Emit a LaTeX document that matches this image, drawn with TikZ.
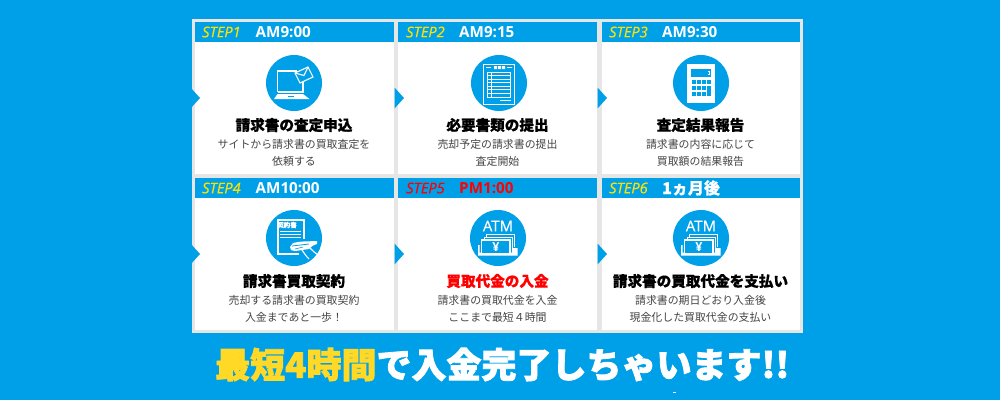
\documentclass[tikz,border=0pt]{standalone}
\usepackage{fontspec}
\newfontfamily\jp{Noto Sans CJK JP}[BoldFeatures={FakeBold=0.6}]
\newfontfamily\jph{Noto Sans CJK JP}[BoldFeatures={FakeBold=2.2}]
\newfontfamily\lat{Open Sans}
\newfontfamily\latm{Open Sans}[FakeBold=0.4]
\definecolor{skyb}{HTML}{00A0E9}
\definecolor{panelg}{HTML}{E6E6E6}
\definecolor{stepy}{HTML}{FFE100}
\definecolor{heady}{HTML}{FFD925}
\definecolor{subg}{HTML}{444444}
\tikzset{
  x=1pt,y=-1pt,
  cardbox/.style={fill=white,draw=none},
  headbar/.style={fill=skyb,draw=none},
  flowmark/.style={fill=skyb,draw=none},
  iconcircle/.style={circle,fill=skyb,draw=none,minimum size=56pt,inner sep=0pt},
  steplabel/.style={anchor=west,inner sep=0pt,text=stepy,font=\latm\itshape\fontsize{14.6}{16}\selectfont},
  timelabel/.style={anchor=west,inner sep=0pt,text=white,font=\lat\bfseries\fontsize{15.2}{18}\selectfont},
  timejp/.style={anchor=west,inner sep=0pt,text=white,font=\jp\bfseries\fontsize{16}{18}\selectfont},
  cardtitle/.style={inner sep=0pt,text=black,font=\jp\bfseries\fontsize{14.6}{16}\selectfont},
  cardsub/.style={inner sep=0pt,text=subg,font=\jp\fontsize{10.9}{13}\selectfont},
  wl/.style={draw=white,line width=1.3pt,fill=none},
  wf/.style={fill=white,draw=none},
  bl/.style={fill=skyb,draw=none},
}
\newcommand{\cardframe}[3]{% x, y-top, y-bottom
  \path[cardbox] (#1,#2) rectangle ++(198.5,#3-#2);
  \path[headbar] (#1,#2) rectangle ++(198.5,20);
}
\newcommand{\flowtri}[2]{\path[flowmark] (#1,#2-10.5) -- (#1+9.5,#2) -- (#1,#2+10.5) -- cycle;}
\newcommand{\iconlaptop}[2]{\begin{scope}[shift={(#1,#2)}]
  \draw[wl] (-16.5,9) -- (-16.5,-12) -- (3,-12);
  \draw[wl] (-16.5,9) -- (9,9) -- (9,-3);
  \path[wf] (-16.5,11) -- (9,11) -- (15.5,16) -- (-20,16) -- cycle;
  \path[bl] (-6,13) rectangle (0,14);
  \draw[wl,fill=skyb,line width=1.1pt] (1,-10) -- (14,-16) -- (19,-6) -- (6,0) -- cycle;
  \draw[wl,line width=1.1pt] (1,-10) -- (10,-7.5) -- (14,-16);
\end{scope}}
\newcommand{\icondoc}[2]{\begin{scope}[shift={(#1,#2)}]
  \draw[wl,line width=.9pt] (-16,-19) rectangle (15,21);
  \path[wf] (-5,-17) rectangle (-2,-14) (-1,-17) rectangle (2,-14) (3,-17) rectangle (6,-14);
  \path[wf] (-13,-16) rectangle (-8,-15.2) (8,-16) rectangle (13,-15.2);
  \draw[wl,line width=.7pt] (-12,-11) rectangle (11,14);
  \draw[white,line width=.7pt] (-8,-11) -- (-8,14);
  \foreach \yy in {-7.5,-4,-.5,3,6.5,10}{\draw[white,line width=.7pt] (-12,\yy) -- (11,\yy);}
  \draw[white,line width=1pt] (1,17.5) -- (12,17.5);
\end{scope}}
\newcommand{\iconcalc}[2]{\begin{scope}[shift={(#1,#2)}]
  \path[wf] (-14,-19) rectangle (13.5,19.5);
  \path[bl] (-10,-14) rectangle (10,-6.5);
  \path[wf] (6.5,-12.5) rectangle (9,-8);
  \path[bl] (7.3,-11.5) rectangle (8.2,-9);
  \foreach \cx in {-9,-4,1.2,6.4}{\path[bl] (\cx,-3) rectangle ++(3.5,3.5);}
  \foreach \cx in {-9,-4,1.2}{\foreach \cy in {3,9}{\path[bl] (\cx,\cy) rectangle ++(3.5,3.5);}}
  \path[bl] (6.4,3) rectangle (9.9,12.5);
\end{scope}}
\newcommand{\iconpact}[2]{\begin{scope}[shift={(#1,#2)}]
  \draw[wl] (10,1) -- (10,-18) -- (-16,-18) -- (-16,16) -- (5,16);
  \node[inner sep=0pt,text=white,font=\jp\bfseries\fontsize{6.5}{7}\selectfont] (pacttext#1) at (-7,-13) {契約書};
  \foreach \yy in {-6.5,-3.5,-1}{\draw[white,line width=.9pt] (-14,\yy) -- (7,\yy);}
  \path[wf] (-4,9) -- (-1,5) .. controls (6,3) and (14,3.5) .. (23,3) -- (23,6) .. controls (19,7) and (17,9) .. (15,11) -- (8,12) -- (1,13) -- (-3,12) -- cycle;
  \draw[skyb,line width=.8pt] (-2,8) -- (15,6);
  \draw[skyb,line width=.6pt] (1,11) -- (9,9);
  \draw[wl,line width=1.1pt] (8,12) .. controls (10,15) and (12,18) .. (15,21);
  \draw[wl,line width=1.1pt] (16,10) .. controls (19,13) and (21,15) .. (24,17);
\end{scope}}
\newcommand{\iconatm}[2]{\begin{scope}[shift={(#1,#2)}]
  \node[inner sep=0pt,text=white,font=\latm\fontsize{15}{16}\selectfont] (atmtext#1) at (0,-12) {ATM};
  \draw[wl,line width=1pt] (-12,0) -- (-12,-3.8) -- (16,-3.8) -- (16,9);
  \draw[wl,line width=1pt] (-14,2) -- (-14,-1) -- (14,-1) -- (14,11);
  \path[wf] (-20,7) -- (-18.5,7) -- (-18.5,14.5) -- (14,14.5) -- (14,10) -- (19.5,10) -- (19.5,17.5) -- (-20,17.5) -- cycle;
  \draw[wl,fill=skyb,line width=1.1pt] (-16.5,2) rectangle (12,15.5);
  \node[inner sep=0pt,text=white,font=\lat\bfseries\fontsize{12.5}{14}\selectfont] (yen#1) at (-2,8.7) {¥};
\end{scope}}
\begin{document}
\begin{tikzpicture}
\useasboundingbox (0,0) rectangle (1000,400);
\path[fill=skyb] (0,0) rectangle (1000,400);
\path[fill=panelg] (192,19) rectangle (803,333);
\cardframe{195}{22}{174}
\cardframe{398}{22}{174}
\cardframe{601.5}{22}{174}
\cardframe{195}{178}{330}
\cardframe{398}{178}{330}
\cardframe{601.5}{178}{330}
\flowtri{190.5}{98}
\flowtri{394.5}{98}
\flowtri{597.5}{98}
\flowtri{190.5}{254}
\flowtri{394.5}{254}
\flowtri{597.5}{254}
% headers
\node[steplabel] (s1) at (202,32) {STEP1};
\node[timelabel] (t1) at (255.5,32) {AM9:00};
\node[steplabel] (s2) at (406,32) {STEP2};
\node[timelabel] (t2) at (459,32) {AM9:15};
\node[steplabel] (s3) at (609,32) {STEP3};
\node[timelabel] (t3) at (662,32) {AM9:30};
\node[steplabel] (s4) at (202,188) {STEP4};
\node[timelabel] (t4) at (255.5,188) {AM10:00};
\node[steplabel,text=red] (s5) at (406,188) {STEP5};
\node[timelabel,text=red] (t5) at (459,188) {PM1:00};
\node[steplabel] (s6) at (609,188) {STEP6};
\node[timejp] (t6) at (662,188) {1ヵ月後};
% icons
\node[iconcircle] (c1) at (294,83) {};
\node[iconcircle] (c2) at (499,83) {};
\node[iconcircle] (c3) at (701,83) {};
\node[iconcircle] (c4) at (294,238) {};
\node[iconcircle] (c5) at (498,238) {};
\node[iconcircle] (c6) at (701,238) {};
\iconlaptop{294}{83}
\icondoc{499}{83}
\iconcalc{701}{83}
\iconpact{294}{238}
\iconatm{498}{238}
\iconatm{701}{238}
% texts
\node[cardtitle] (h1) at (294,125) {請求書の査定申込};
\node[cardsub] (a1) at (294,144) {サイトから請求書の買取査定を};
\node[cardsub] (b1) at (294,161) {依頼する};
\node[cardtitle] (h2) at (497.5,125) {必要書類の提出};
\node[cardsub] (a2) at (497.5,144) {売却予定の請求書の提出};
\node[cardsub] (b2) at (497.5,161) {査定開始};
\node[cardtitle] (h3) at (700.5,125) {査定結果報告};
\node[cardsub] (a3) at (700.5,144) {請求書の内容に応じて};
\node[cardsub] (b3) at (700.5,161) {買取額の結果報告};
\node[cardtitle] (h4) at (294,281) {請求書買取契約};
\node[cardsub] (a4) at (294,300) {売却する請求書の買取契約};
\node[cardsub] (b4) at (294,317) {入金まであと一歩！};
\node[cardtitle,text=red] (h5) at (497.5,281) {買取代金の入金};
\node[cardsub] (a5) at (497.5,300) {請求書の買取代金を入金};
\node[cardsub] (b5) at (497.5,317) {ここまで最短４時間};
\node[cardtitle] (h6) at (700.5,281) {請求書の買取代金を支払い};
\node[cardsub] (a6) at (700.5,300) {請求書の期日どおり入金後};
\node[cardsub] (b6) at (700.5,317) {現金化した買取代金の支払い};
% banner
\node[inner sep=0pt,anchor=west,font=\jph\bfseries\fontsize{35}{38}\selectfont,text=white] (banner) at (215,364.5) {\textcolor{heady}{最短4時間}で入金完了しちゃいます!!};
\path[fill=white] (673,391.5) rectangle (676,392.5);
\end{tikzpicture}
\end{document}
